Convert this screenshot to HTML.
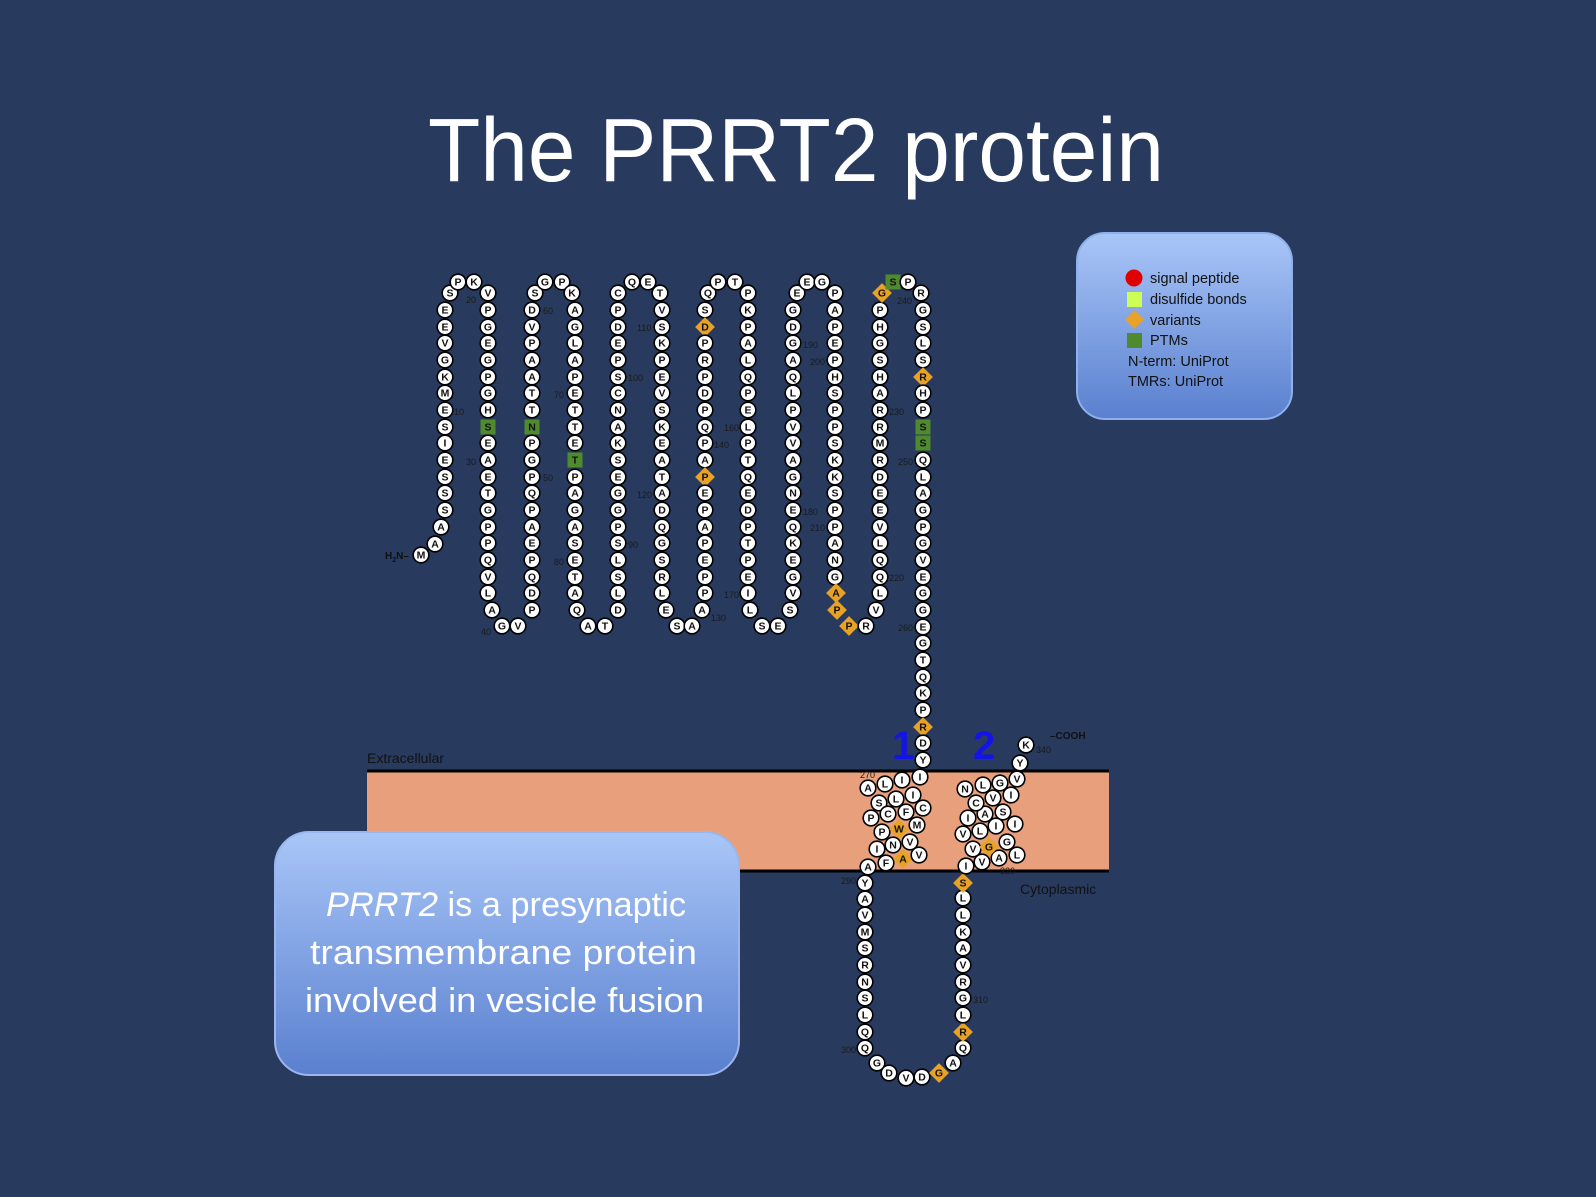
<!DOCTYPE html>
<html><head><meta charset="utf-8"><style>
html,body{margin:0;padding:0;background:#283a5e;}
svg{display:block}
.res circle{fill:#fff;stroke:#000;stroke-width:1.6}
.res text{font-family:"Liberation Sans",sans-serif;font-size:10.5px;font-weight:bold;fill:#111;text-anchor:middle}
.d{fill:#e8a226}
.g{fill:#4f8a2f}
.n{font-family:"Liberation Sans",sans-serif;font-size:9px;fill:#1a1a1a}
</style></head><body>
<svg width="1596" height="1197" viewBox="0 0 1596 1197" xmlns="http://www.w3.org/2000/svg">
<defs>
<linearGradient id="bg1" x1="0" y1="0" x2="0" y2="1"><stop offset="0" stop-color="#a9c6f8"/><stop offset="1" stop-color="#5a80cf"/></linearGradient>
</defs>
<rect width="1596" height="1197" fill="#283a5e"/>
<text x="428" y="181" font-family="Liberation Sans,sans-serif" font-size="90" fill="#fff" textLength="736" lengthAdjust="spacingAndGlyphs">The PRRT2 protein</text>

<!-- legend -->
<rect x="1077" y="233" width="215" height="186" rx="28" fill="url(#bg1)" stroke="#8fb0ea" stroke-width="2"/>
<circle cx="1134" cy="278" r="8.5" fill="#e00000"/>
<rect x="1127" y="292" width="15" height="15" fill="#ccff55"/>
<rect x="1128" y="313" width="13" height="13" fill="#e8a226" transform="rotate(45 1134.5 319.5)"/>
<rect x="1127" y="333" width="15" height="15" fill="#4f8a2f"/>
<g font-family="Liberation Sans,sans-serif" font-size="14.5" fill="#111">
<text x="1150" y="283">signal peptide</text>
<text x="1150" y="304">disulfide bonds</text>
<text x="1150" y="325">variants</text>
<text x="1150" y="345">PTMs</text>
<text x="1128" y="366">N-term: UniProt</text>
<text x="1128" y="386">TMRs: UniProt</text>
</g>

<!-- membrane -->
<rect x="367" y="771" width="742" height="100" fill="#e8a07c"/>
<line x1="367" y1="771" x2="1109" y2="771" stroke="#000" stroke-width="3"/>
<line x1="367" y1="871" x2="1109" y2="871" stroke="#000" stroke-width="3"/>
<text x="367" y="763" font-family="Liberation Sans,sans-serif" font-size="14" fill="#111">Extracellular</text>
<text x="1020" y="894" font-family="Liberation Sans,sans-serif" font-size="14" fill="#111">Cytoplasmic</text>
<text x="892" y="759" font-family="Liberation Sans,sans-serif" font-size="40" font-weight="bold" fill="#1414e6">1</text>
<text x="973" y="759" font-family="Liberation Sans,sans-serif" font-size="40" font-weight="bold" fill="#1414e6">2</text>
<text x="1050" y="739" font-family="Liberation Sans,sans-serif" font-size="10" font-weight="bold" fill="#111">–COOH</text>
<text x="385" y="559" font-family="Liberation Sans,sans-serif" font-size="10" font-weight="bold" fill="#111">H<tspan font-size="7" dy="3">2</tspan><tspan dy="-3">N–</tspan></text>

<!-- numbers -->
<g class="n">
<text x="466" y="303">20</text><text x="454" y="415">10</text><text x="466" y="465">30</text><text x="481" y="635">40</text>
<text x="543" y="314">60</text><text x="543" y="481">50</text><text x="554" y="398">70</text><text x="554" y="565">80</text>
<text x="628" y="381">100</text><text x="628" y="548">90</text><text x="637" y="331">110</text><text x="637" y="498">120</text>
<text x="711" y="621">130</text><text x="714" y="448">140</text><text x="724" y="431">160</text><text x="724" y="598">170</text>
<text x="803" y="348">190</text><text x="803" y="515">180</text><text x="810" y="365">200</text><text x="810" y="531">210</text>
<text x="889" y="415">230</text><text x="889" y="581">220</text><text x="897" y="304">240</text><text x="898" y="465">250</text>
<text x="898" y="631">260</text><text x="841" y="884">290</text><text x="841" y="1053">300</text><text x="973" y="1003">310</text>
<text x="1036" y="753">340</text><text x="860" y="778">270</text><text x="1000" y="874">320</text>
</g>

<g class="res">
<!-- Col1 -->
<g transform="translate(421,555)"><circle r="7.8"/><text dy="3.7">M</text></g>
<g transform="translate(435,544)"><circle r="7.8"/><text dy="3.7">A</text></g>
<g transform="translate(441,527)"><circle r="7.8"/><text dy="3.7">A</text></g>
<g transform="translate(445,510)"><circle r="7.8"/><text dy="3.7">S</text></g>
<g transform="translate(445,493)"><circle r="7.8"/><text dy="3.7">S</text></g>
<g transform="translate(445,477)"><circle r="7.8"/><text dy="3.7">S</text></g>
<g transform="translate(445,460)"><circle r="7.8"/><text dy="3.7">E</text></g>
<g transform="translate(445,443)"><circle r="7.8"/><text dy="3.7">I</text></g>
<g transform="translate(445,427)"><circle r="7.8"/><text dy="3.7">S</text></g>
<g transform="translate(445,410)"><circle r="7.8"/><text dy="3.7">E</text></g>
<g transform="translate(445,393)"><circle r="7.8"/><text dy="3.7">M</text></g>
<g transform="translate(445,377)"><circle r="7.8"/><text dy="3.7">K</text></g>
<g transform="translate(445,360)"><circle r="7.8"/><text dy="3.7">G</text></g>
<g transform="translate(445,343)"><circle r="7.8"/><text dy="3.7">V</text></g>
<g transform="translate(445,327)"><circle r="7.8"/><text dy="3.7">E</text></g>
<g transform="translate(445,310)"><circle r="7.8"/><text dy="3.7">E</text></g>
<g transform="translate(450,293)"><circle r="7.8"/><text dy="3.7">S</text></g>
<g transform="translate(458,282)"><circle r="7.8"/><text dy="3.7">P</text></g>
<g transform="translate(474,282)"><circle r="7.8"/><text dy="3.7">K</text></g>
<g transform="translate(488,293)"><circle r="7.8"/><text dy="3.7">V</text></g>
<!-- Col2 -->
<g transform="translate(488,310)"><circle r="7.8"/><text dy="3.7">P</text></g>
<g transform="translate(488,327)"><circle r="7.8"/><text dy="3.7">G</text></g>
<g transform="translate(488,343)"><circle r="7.8"/><text dy="3.7">E</text></g>
<g transform="translate(488,360)"><circle r="7.8"/><text dy="3.7">G</text></g>
<g transform="translate(488,377)"><circle r="7.8"/><text dy="3.7">P</text></g>
<g transform="translate(488,393)"><circle r="7.8"/><text dy="3.7">G</text></g>
<g transform="translate(488,410)"><circle r="7.8"/><text dy="3.7">H</text></g>
<g transform="translate(488,427)"><rect class="g" x="-7.5" y="-7.5" width="15" height="15"/><text dy="3.7">S</text></g>
<g transform="translate(488,443)"><circle r="7.8"/><text dy="3.7">E</text></g>
<g transform="translate(488,460)"><circle r="7.8"/><text dy="3.7">A</text></g>
<g transform="translate(488,477)"><circle r="7.8"/><text dy="3.7">E</text></g>
<g transform="translate(488,493)"><circle r="7.8"/><text dy="3.7">T</text></g>
<g transform="translate(488,510)"><circle r="7.8"/><text dy="3.7">G</text></g>
<g transform="translate(488,527)"><circle r="7.8"/><text dy="3.7">P</text></g>
<g transform="translate(488,543)"><circle r="7.8"/><text dy="3.7">P</text></g>
<g transform="translate(488,560)"><circle r="7.8"/><text dy="3.7">Q</text></g>
<g transform="translate(488,577)"><circle r="7.8"/><text dy="3.7">V</text></g>
<g transform="translate(488,593)"><circle r="7.8"/><text dy="3.7">L</text></g>
<g transform="translate(492,610)"><circle r="7.8"/><text dy="3.7">A</text></g>
<g transform="translate(502,626)"><circle r="7.8"/><text dy="3.7">G</text></g>
<g transform="translate(518,626)"><circle r="7.8"/><text dy="3.7">V</text></g>
<g transform="translate(532,610)"><circle r="7.8"/><text dy="3.7">P</text></g>
<!-- Col3 -->
<g transform="translate(532,310)"><circle r="7.8"/><text dy="3.7">D</text></g>
<g transform="translate(532,327)"><circle r="7.8"/><text dy="3.7">V</text></g>
<g transform="translate(532,343)"><circle r="7.8"/><text dy="3.7">P</text></g>
<g transform="translate(532,360)"><circle r="7.8"/><text dy="3.7">A</text></g>
<g transform="translate(532,377)"><circle r="7.8"/><text dy="3.7">A</text></g>
<g transform="translate(532,393)"><circle r="7.8"/><text dy="3.7">T</text></g>
<g transform="translate(532,410)"><circle r="7.8"/><text dy="3.7">T</text></g>
<g transform="translate(532,427)"><rect class="g" x="-7.5" y="-7.5" width="15" height="15"/><text dy="3.7">N</text></g>
<g transform="translate(532,443)"><circle r="7.8"/><text dy="3.7">P</text></g>
<g transform="translate(532,460)"><circle r="7.8"/><text dy="3.7">G</text></g>
<g transform="translate(532,477)"><circle r="7.8"/><text dy="3.7">P</text></g>
<g transform="translate(532,493)"><circle r="7.8"/><text dy="3.7">Q</text></g>
<g transform="translate(532,510)"><circle r="7.8"/><text dy="3.7">P</text></g>
<g transform="translate(532,527)"><circle r="7.8"/><text dy="3.7">A</text></g>
<g transform="translate(532,543)"><circle r="7.8"/><text dy="3.7">E</text></g>
<g transform="translate(532,560)"><circle r="7.8"/><text dy="3.7">P</text></g>
<g transform="translate(532,577)"><circle r="7.8"/><text dy="3.7">Q</text></g>
<g transform="translate(532,593)"><circle r="7.8"/><text dy="3.7">D</text></g>
<g transform="translate(535,293)"><circle r="7.8"/><text dy="3.7">S</text></g>
<g transform="translate(545,282)"><circle r="7.8"/><text dy="3.7">G</text></g>
<g transform="translate(562,282)"><circle r="7.8"/><text dy="3.7">P</text></g>
<g transform="translate(572,293)"><circle r="7.8"/><text dy="3.7">K</text></g>
<!-- Col4 -->
<g transform="translate(575,310)"><circle r="7.8"/><text dy="3.7">A</text></g>
<g transform="translate(575,327)"><circle r="7.8"/><text dy="3.7">G</text></g>
<g transform="translate(575,343)"><circle r="7.8"/><text dy="3.7">L</text></g>
<g transform="translate(575,360)"><circle r="7.8"/><text dy="3.7">A</text></g>
<g transform="translate(575,377)"><circle r="7.8"/><text dy="3.7">P</text></g>
<g transform="translate(575,393)"><circle r="7.8"/><text dy="3.7">E</text></g>
<g transform="translate(575,410)"><circle r="7.8"/><text dy="3.7">T</text></g>
<g transform="translate(575,427)"><circle r="7.8"/><text dy="3.7">T</text></g>
<g transform="translate(575,443)"><circle r="7.8"/><text dy="3.7">E</text></g>
<g transform="translate(575,460)"><rect class="g" x="-7.5" y="-7.5" width="15" height="15"/><text dy="3.7">T</text></g>
<g transform="translate(575,477)"><circle r="7.8"/><text dy="3.7">P</text></g>
<g transform="translate(575,493)"><circle r="7.8"/><text dy="3.7">A</text></g>
<g transform="translate(575,510)"><circle r="7.8"/><text dy="3.7">G</text></g>
<g transform="translate(575,527)"><circle r="7.8"/><text dy="3.7">A</text></g>
<g transform="translate(575,543)"><circle r="7.8"/><text dy="3.7">S</text></g>
<g transform="translate(575,560)"><circle r="7.8"/><text dy="3.7">E</text></g>
<g transform="translate(575,577)"><circle r="7.8"/><text dy="3.7">T</text></g>
<g transform="translate(575,593)"><circle r="7.8"/><text dy="3.7">A</text></g>
<g transform="translate(577,610)"><circle r="7.8"/><text dy="3.7">Q</text></g>
<g transform="translate(588,626)"><circle r="7.8"/><text dy="3.7">A</text></g>
<g transform="translate(605,626)"><circle r="7.8"/><text dy="3.7">T</text></g>
<g transform="translate(618,610)"><circle r="7.8"/><text dy="3.7">D</text></g>
<!-- Col5 -->
<g transform="translate(618,310)"><circle r="7.8"/><text dy="3.7">P</text></g>
<g transform="translate(618,327)"><circle r="7.8"/><text dy="3.7">D</text></g>
<g transform="translate(618,343)"><circle r="7.8"/><text dy="3.7">E</text></g>
<g transform="translate(618,360)"><circle r="7.8"/><text dy="3.7">P</text></g>
<g transform="translate(618,377)"><circle r="7.8"/><text dy="3.7">S</text></g>
<g transform="translate(618,393)"><circle r="7.8"/><text dy="3.7">C</text></g>
<g transform="translate(618,410)"><circle r="7.8"/><text dy="3.7">N</text></g>
<g transform="translate(618,427)"><circle r="7.8"/><text dy="3.7">A</text></g>
<g transform="translate(618,443)"><circle r="7.8"/><text dy="3.7">K</text></g>
<g transform="translate(618,460)"><circle r="7.8"/><text dy="3.7">S</text></g>
<g transform="translate(618,477)"><circle r="7.8"/><text dy="3.7">E</text></g>
<g transform="translate(618,493)"><circle r="7.8"/><text dy="3.7">G</text></g>
<g transform="translate(618,510)"><circle r="7.8"/><text dy="3.7">G</text></g>
<g transform="translate(618,527)"><circle r="7.8"/><text dy="3.7">P</text></g>
<g transform="translate(618,543)"><circle r="7.8"/><text dy="3.7">S</text></g>
<g transform="translate(618,560)"><circle r="7.8"/><text dy="3.7">L</text></g>
<g transform="translate(618,577)"><circle r="7.8"/><text dy="3.7">S</text></g>
<g transform="translate(618,593)"><circle r="7.8"/><text dy="3.7">L</text></g>
<g transform="translate(618,293)"><circle r="7.8"/><text dy="3.7">C</text></g>
<g transform="translate(632,282)"><circle r="7.8"/><text dy="3.7">Q</text></g>
<g transform="translate(648,282)"><circle r="7.8"/><text dy="3.7">E</text></g>
<g transform="translate(660,293)"><circle r="7.8"/><text dy="3.7">T</text></g>
<!-- Col6 -->
<g transform="translate(662,310)"><circle r="7.8"/><text dy="3.7">V</text></g>
<g transform="translate(662,327)"><circle r="7.8"/><text dy="3.7">S</text></g>
<g transform="translate(662,343)"><circle r="7.8"/><text dy="3.7">K</text></g>
<g transform="translate(662,360)"><circle r="7.8"/><text dy="3.7">P</text></g>
<g transform="translate(662,377)"><circle r="7.8"/><text dy="3.7">E</text></g>
<g transform="translate(662,393)"><circle r="7.8"/><text dy="3.7">V</text></g>
<g transform="translate(662,410)"><circle r="7.8"/><text dy="3.7">S</text></g>
<g transform="translate(662,427)"><circle r="7.8"/><text dy="3.7">K</text></g>
<g transform="translate(662,443)"><circle r="7.8"/><text dy="3.7">E</text></g>
<g transform="translate(662,460)"><circle r="7.8"/><text dy="3.7">A</text></g>
<g transform="translate(662,477)"><circle r="7.8"/><text dy="3.7">T</text></g>
<g transform="translate(662,493)"><circle r="7.8"/><text dy="3.7">A</text></g>
<g transform="translate(662,510)"><circle r="7.8"/><text dy="3.7">D</text></g>
<g transform="translate(662,527)"><circle r="7.8"/><text dy="3.7">Q</text></g>
<g transform="translate(662,543)"><circle r="7.8"/><text dy="3.7">G</text></g>
<g transform="translate(662,560)"><circle r="7.8"/><text dy="3.7">S</text></g>
<g transform="translate(662,577)"><circle r="7.8"/><text dy="3.7">R</text></g>
<g transform="translate(662,593)"><circle r="7.8"/><text dy="3.7">L</text></g>
<g transform="translate(666,610)"><circle r="7.8"/><text dy="3.7">E</text></g>
<g transform="translate(677,626)"><circle r="7.8"/><text dy="3.7">S</text></g>
<g transform="translate(692,626)"><circle r="7.8"/><text dy="3.7">A</text></g>
<g transform="translate(702,610)"><circle r="7.8"/><text dy="3.7">A</text></g>
<!-- Col7 -->
<g transform="translate(705,310)"><circle r="7.8"/><text dy="3.7">S</text></g>
<g transform="translate(705,327)"><rect class="d" x="-7" y="-7" width="14" height="14" transform="rotate(45)"/><text dy="3.7">D</text></g>
<g transform="translate(705,343)"><circle r="7.8"/><text dy="3.7">P</text></g>
<g transform="translate(705,360)"><circle r="7.8"/><text dy="3.7">R</text></g>
<g transform="translate(705,377)"><circle r="7.8"/><text dy="3.7">P</text></g>
<g transform="translate(705,393)"><circle r="7.8"/><text dy="3.7">D</text></g>
<g transform="translate(705,410)"><circle r="7.8"/><text dy="3.7">P</text></g>
<g transform="translate(705,427)"><circle r="7.8"/><text dy="3.7">Q</text></g>
<g transform="translate(705,443)"><circle r="7.8"/><text dy="3.7">P</text></g>
<g transform="translate(705,460)"><circle r="7.8"/><text dy="3.7">A</text></g>
<g transform="translate(705,477)"><rect class="d" x="-7" y="-7" width="14" height="14" transform="rotate(45)"/><text dy="3.7">P</text></g>
<g transform="translate(705,493)"><circle r="7.8"/><text dy="3.7">E</text></g>
<g transform="translate(705,510)"><circle r="7.8"/><text dy="3.7">P</text></g>
<g transform="translate(705,527)"><circle r="7.8"/><text dy="3.7">A</text></g>
<g transform="translate(705,543)"><circle r="7.8"/><text dy="3.7">P</text></g>
<g transform="translate(705,560)"><circle r="7.8"/><text dy="3.7">E</text></g>
<g transform="translate(705,577)"><circle r="7.8"/><text dy="3.7">P</text></g>
<g transform="translate(705,593)"><circle r="7.8"/><text dy="3.7">P</text></g>
<g transform="translate(708,293)"><circle r="7.8"/><text dy="3.7">Q</text></g>
<g transform="translate(718,282)"><circle r="7.8"/><text dy="3.7">P</text></g>
<g transform="translate(735,282)"><circle r="7.8"/><text dy="3.7">T</text></g>
<g transform="translate(748,293)"><circle r="7.8"/><text dy="3.7">P</text></g>
<!-- Col8 -->
<g transform="translate(748,310)"><circle r="7.8"/><text dy="3.7">K</text></g>
<g transform="translate(748,327)"><circle r="7.8"/><text dy="3.7">P</text></g>
<g transform="translate(748,343)"><circle r="7.8"/><text dy="3.7">A</text></g>
<g transform="translate(748,360)"><circle r="7.8"/><text dy="3.7">L</text></g>
<g transform="translate(748,377)"><circle r="7.8"/><text dy="3.7">Q</text></g>
<g transform="translate(748,393)"><circle r="7.8"/><text dy="3.7">P</text></g>
<g transform="translate(748,410)"><circle r="7.8"/><text dy="3.7">E</text></g>
<g transform="translate(748,427)"><circle r="7.8"/><text dy="3.7">L</text></g>
<g transform="translate(748,443)"><circle r="7.8"/><text dy="3.7">P</text></g>
<g transform="translate(748,460)"><circle r="7.8"/><text dy="3.7">T</text></g>
<g transform="translate(748,477)"><circle r="7.8"/><text dy="3.7">Q</text></g>
<g transform="translate(748,493)"><circle r="7.8"/><text dy="3.7">E</text></g>
<g transform="translate(748,510)"><circle r="7.8"/><text dy="3.7">D</text></g>
<g transform="translate(748,527)"><circle r="7.8"/><text dy="3.7">P</text></g>
<g transform="translate(748,543)"><circle r="7.8"/><text dy="3.7">T</text></g>
<g transform="translate(748,560)"><circle r="7.8"/><text dy="3.7">P</text></g>
<g transform="translate(748,577)"><circle r="7.8"/><text dy="3.7">E</text></g>
<g transform="translate(748,593)"><circle r="7.8"/><text dy="3.7">I</text></g>
<g transform="translate(750,610)"><circle r="7.8"/><text dy="3.7">L</text></g>
<g transform="translate(762,626)"><circle r="7.8"/><text dy="3.7">S</text></g>
<g transform="translate(778,626)"><circle r="7.8"/><text dy="3.7">E</text></g>
<g transform="translate(790,610)"><circle r="7.8"/><text dy="3.7">S</text></g>
<!-- Col9 -->
<g transform="translate(793,310)"><circle r="7.8"/><text dy="3.7">G</text></g>
<g transform="translate(793,327)"><circle r="7.8"/><text dy="3.7">D</text></g>
<g transform="translate(793,343)"><circle r="7.8"/><text dy="3.7">G</text></g>
<g transform="translate(793,360)"><circle r="7.8"/><text dy="3.7">A</text></g>
<g transform="translate(793,377)"><circle r="7.8"/><text dy="3.7">Q</text></g>
<g transform="translate(793,393)"><circle r="7.8"/><text dy="3.7">L</text></g>
<g transform="translate(793,410)"><circle r="7.8"/><text dy="3.7">P</text></g>
<g transform="translate(793,427)"><circle r="7.8"/><text dy="3.7">V</text></g>
<g transform="translate(793,443)"><circle r="7.8"/><text dy="3.7">V</text></g>
<g transform="translate(793,460)"><circle r="7.8"/><text dy="3.7">A</text></g>
<g transform="translate(793,477)"><circle r="7.8"/><text dy="3.7">G</text></g>
<g transform="translate(793,493)"><circle r="7.8"/><text dy="3.7">N</text></g>
<g transform="translate(793,510)"><circle r="7.8"/><text dy="3.7">E</text></g>
<g transform="translate(793,527)"><circle r="7.8"/><text dy="3.7">Q</text></g>
<g transform="translate(793,543)"><circle r="7.8"/><text dy="3.7">K</text></g>
<g transform="translate(793,560)"><circle r="7.8"/><text dy="3.7">E</text></g>
<g transform="translate(793,577)"><circle r="7.8"/><text dy="3.7">G</text></g>
<g transform="translate(793,593)"><circle r="7.8"/><text dy="3.7">V</text></g>
<g transform="translate(797,293)"><circle r="7.8"/><text dy="3.7">E</text></g>
<g transform="translate(807,282)"><circle r="7.8"/><text dy="3.7">E</text></g>
<g transform="translate(822,282)"><circle r="7.8"/><text dy="3.7">G</text></g>
<g transform="translate(835,293)"><circle r="7.8"/><text dy="3.7">P</text></g>
<!-- Col10 -->
<g transform="translate(835,310)"><circle r="7.8"/><text dy="3.7">A</text></g>
<g transform="translate(835,327)"><circle r="7.8"/><text dy="3.7">P</text></g>
<g transform="translate(835,343)"><circle r="7.8"/><text dy="3.7">E</text></g>
<g transform="translate(835,360)"><circle r="7.8"/><text dy="3.7">P</text></g>
<g transform="translate(835,377)"><circle r="7.8"/><text dy="3.7">H</text></g>
<g transform="translate(835,393)"><circle r="7.8"/><text dy="3.7">S</text></g>
<g transform="translate(835,410)"><circle r="7.8"/><text dy="3.7">P</text></g>
<g transform="translate(835,427)"><circle r="7.8"/><text dy="3.7">P</text></g>
<g transform="translate(835,443)"><circle r="7.8"/><text dy="3.7">S</text></g>
<g transform="translate(835,460)"><circle r="7.8"/><text dy="3.7">K</text></g>
<g transform="translate(835,477)"><circle r="7.8"/><text dy="3.7">K</text></g>
<g transform="translate(835,493)"><circle r="7.8"/><text dy="3.7">S</text></g>
<g transform="translate(835,510)"><circle r="7.8"/><text dy="3.7">P</text></g>
<g transform="translate(835,527)"><circle r="7.8"/><text dy="3.7">P</text></g>
<g transform="translate(835,543)"><circle r="7.8"/><text dy="3.7">A</text></g>
<g transform="translate(835,560)"><circle r="7.8"/><text dy="3.7">N</text></g>
<g transform="translate(835,577)"><circle r="7.8"/><text dy="3.7">G</text></g>
<g transform="translate(836,593)"><rect class="d" x="-7" y="-7" width="14" height="14" transform="rotate(45)"/><text dy="3.7">A</text></g>
<g transform="translate(837,610)"><rect class="d" x="-7" y="-7" width="14" height="14" transform="rotate(45)"/><text dy="3.7">P</text></g>
<g transform="translate(849,626)"><rect class="d" x="-7" y="-7" width="14" height="14" transform="rotate(45)"/><text dy="3.7">P</text></g>
<g transform="translate(866,626)"><circle r="7.8"/><text dy="3.7">R</text></g>
<g transform="translate(876,610)"><circle r="7.8"/><text dy="3.7">V</text></g>
<!-- Col11 -->
<g transform="translate(880,310)"><circle r="7.8"/><text dy="3.7">P</text></g>
<g transform="translate(880,327)"><circle r="7.8"/><text dy="3.7">H</text></g>
<g transform="translate(880,343)"><circle r="7.8"/><text dy="3.7">G</text></g>
<g transform="translate(880,360)"><circle r="7.8"/><text dy="3.7">S</text></g>
<g transform="translate(880,377)"><circle r="7.8"/><text dy="3.7">H</text></g>
<g transform="translate(880,393)"><circle r="7.8"/><text dy="3.7">A</text></g>
<g transform="translate(880,410)"><circle r="7.8"/><text dy="3.7">R</text></g>
<g transform="translate(880,427)"><circle r="7.8"/><text dy="3.7">R</text></g>
<g transform="translate(880,443)"><circle r="7.8"/><text dy="3.7">M</text></g>
<g transform="translate(880,460)"><circle r="7.8"/><text dy="3.7">R</text></g>
<g transform="translate(880,477)"><circle r="7.8"/><text dy="3.7">D</text></g>
<g transform="translate(880,493)"><circle r="7.8"/><text dy="3.7">E</text></g>
<g transform="translate(880,510)"><circle r="7.8"/><text dy="3.7">E</text></g>
<g transform="translate(880,527)"><circle r="7.8"/><text dy="3.7">V</text></g>
<g transform="translate(880,543)"><circle r="7.8"/><text dy="3.7">L</text></g>
<g transform="translate(880,560)"><circle r="7.8"/><text dy="3.7">Q</text></g>
<g transform="translate(880,577)"><circle r="7.8"/><text dy="3.7">Q</text></g>
<g transform="translate(880,593)"><circle r="7.8"/><text dy="3.7">L</text></g>
<g transform="translate(882,293)"><rect class="d" x="-7" y="-7" width="14" height="14" transform="rotate(45)"/><text dy="3.7">G</text></g>
<g transform="translate(893,282)"><rect class="g" x="-7.5" y="-7.5" width="15" height="15"/><text dy="3.7">S</text></g>
<g transform="translate(908,282)"><circle r="7.8"/><text dy="3.7">P</text></g>
<g transform="translate(921,293)"><circle r="7.8"/><text dy="3.7">R</text></g>
<!-- Col12 -->
<g transform="translate(923,310)"><circle r="7.8"/><text dy="3.7">G</text></g>
<g transform="translate(923,327)"><circle r="7.8"/><text dy="3.7">S</text></g>
<g transform="translate(923,343)"><circle r="7.8"/><text dy="3.7">L</text></g>
<g transform="translate(923,360)"><circle r="7.8"/><text dy="3.7">S</text></g>
<g transform="translate(923,377)"><rect class="d" x="-7" y="-7" width="14" height="14" transform="rotate(45)"/><text dy="3.7">R</text></g>
<g transform="translate(923,393)"><circle r="7.8"/><text dy="3.7">H</text></g>
<g transform="translate(923,410)"><circle r="7.8"/><text dy="3.7">P</text></g>
<g transform="translate(923,427)"><rect class="g" x="-7.5" y="-7.5" width="15" height="15"/><text dy="3.7">S</text></g>
<g transform="translate(923,443)"><rect class="g" x="-7.5" y="-7.5" width="15" height="15"/><text dy="3.7">S</text></g>
<g transform="translate(923,460)"><circle r="7.8"/><text dy="3.7">Q</text></g>
<g transform="translate(923,477)"><circle r="7.8"/><text dy="3.7">L</text></g>
<g transform="translate(923,493)"><circle r="7.8"/><text dy="3.7">A</text></g>
<g transform="translate(923,510)"><circle r="7.8"/><text dy="3.7">G</text></g>
<g transform="translate(923,527)"><circle r="7.8"/><text dy="3.7">P</text></g>
<g transform="translate(923,543)"><circle r="7.8"/><text dy="3.7">G</text></g>
<g transform="translate(923,560)"><circle r="7.8"/><text dy="3.7">V</text></g>
<g transform="translate(923,577)"><circle r="7.8"/><text dy="3.7">E</text></g>
<g transform="translate(923,593)"><circle r="7.8"/><text dy="3.7">G</text></g>
<g transform="translate(923,610)"><circle r="7.8"/><text dy="3.7">G</text></g>
<g transform="translate(923,627)"><circle r="7.8"/><text dy="3.7">E</text></g>
<g transform="translate(923,643)"><circle r="7.8"/><text dy="3.7">G</text></g>
<g transform="translate(923,660)"><circle r="7.8"/><text dy="3.7">T</text></g>
<g transform="translate(923,677)"><circle r="7.8"/><text dy="3.7">Q</text></g>
<g transform="translate(923,693)"><circle r="7.8"/><text dy="3.7">K</text></g>
<g transform="translate(923,710)"><circle r="7.8"/><text dy="3.7">P</text></g>
<g transform="translate(923,727)"><rect class="d" x="-7" y="-7" width="14" height="14" transform="rotate(45)"/><text dy="3.7">R</text></g>
<g transform="translate(923,743)"><circle r="7.8"/><text dy="3.7">D</text></g>
<g transform="translate(923,760)"><circle r="7.8"/><text dy="3.7">Y</text></g>
<g transform="translate(920,777)"><circle r="7.8"/><text dy="3.7">I</text></g>
<!-- TM1 -->
<g transform="translate(868,788)"><circle r="7.8"/><text dy="3.7">A</text></g>
<g transform="translate(885,784)"><circle r="7.8"/><text dy="3.7">L</text></g>
<g transform="translate(902,780)"><circle r="7.8"/><text dy="3.7">I</text></g>
<g transform="translate(879,803)"><circle r="7.8"/><text dy="3.7">S</text></g>
<g transform="translate(896,799)"><circle r="7.8"/><text dy="3.7">L</text></g>
<g transform="translate(913,795)"><circle r="7.8"/><text dy="3.7">I</text></g>
<g transform="translate(871,818)"><circle r="7.8"/><text dy="3.7">P</text></g>
<g transform="translate(888,814)"><circle r="7.8"/><text dy="3.7">C</text></g>
<g transform="translate(906,812)"><circle r="7.8"/><text dy="3.7">F</text></g>
<g transform="translate(923,808)"><circle r="7.8"/><text dy="3.7">C</text></g>
<g transform="translate(882,832)"><circle r="7.8"/><text dy="3.7">P</text></g>
<g transform="translate(899,829)"><rect class="d" x="-7" y="-7" width="14" height="14" transform="rotate(45)"/><text dy="3.7">W</text></g>
<g transform="translate(917,825)"><circle r="7.8"/><text dy="3.7">M</text></g>
<g transform="translate(877,849)"><circle r="7.8"/><text dy="3.7">I</text></g>
<g transform="translate(893,845)"><circle r="7.8"/><text dy="3.7">N</text></g>
<g transform="translate(910,842)"><circle r="7.8"/><text dy="3.7">V</text></g>
<g transform="translate(868,867)"><circle r="7.8"/><text dy="3.7">A</text></g>
<g transform="translate(886,863)"><circle r="7.8"/><text dy="3.7">F</text></g>
<g transform="translate(903,859)"><rect class="d" x="-7" y="-7" width="14" height="14" transform="rotate(45)"/><text dy="3.7">A</text></g>
<g transform="translate(919,855)"><circle r="7.8"/><text dy="3.7">V</text></g>
<!-- cytoplasmic loop -->
<g transform="translate(865,883)"><circle r="7.8"/><text dy="3.7">Y</text></g>
<g transform="translate(865,899)"><circle r="7.8"/><text dy="3.7">A</text></g>
<g transform="translate(865,915)"><circle r="7.8"/><text dy="3.7">V</text></g>
<g transform="translate(865,932)"><circle r="7.8"/><text dy="3.7">M</text></g>
<g transform="translate(865,948)"><circle r="7.8"/><text dy="3.7">S</text></g>
<g transform="translate(865,965)"><circle r="7.8"/><text dy="3.7">R</text></g>
<g transform="translate(865,982)"><circle r="7.8"/><text dy="3.7">N</text></g>
<g transform="translate(865,998)"><circle r="7.8"/><text dy="3.7">S</text></g>
<g transform="translate(865,1015)"><circle r="7.8"/><text dy="3.7">L</text></g>
<g transform="translate(865,1032)"><circle r="7.8"/><text dy="3.7">Q</text></g>
<g transform="translate(865,1048)"><circle r="7.8"/><text dy="3.7">Q</text></g>
<g transform="translate(877,1063)"><circle r="7.8"/><text dy="3.7">G</text></g>
<g transform="translate(889,1073)"><circle r="7.8"/><text dy="3.7">D</text></g>
<g transform="translate(906,1078)"><circle r="7.8"/><text dy="3.7">V</text></g>
<g transform="translate(922,1077)"><circle r="7.8"/><text dy="3.7">D</text></g>
<g transform="translate(939,1073)"><rect class="d" x="-7" y="-7" width="14" height="14" transform="rotate(45)"/><text dy="3.7">G</text></g>
<g transform="translate(953,1063)"><circle r="7.8"/><text dy="3.7">A</text></g>
<g transform="translate(963,1048)"><circle r="7.8"/><text dy="3.7">Q</text></g>
<g transform="translate(963,1032)"><rect class="d" x="-7" y="-7" width="14" height="14" transform="rotate(45)"/><text dy="3.7">R</text></g>
<g transform="translate(963,1015)"><circle r="7.8"/><text dy="3.7">L</text></g>
<g transform="translate(963,998)"><circle r="7.8"/><text dy="3.7">G</text></g>
<g transform="translate(963,982)"><circle r="7.8"/><text dy="3.7">R</text></g>
<g transform="translate(963,965)"><circle r="7.8"/><text dy="3.7">V</text></g>
<g transform="translate(963,948)"><circle r="7.8"/><text dy="3.7">A</text></g>
<g transform="translate(963,932)"><circle r="7.8"/><text dy="3.7">K</text></g>
<g transform="translate(963,915)"><circle r="7.8"/><text dy="3.7">L</text></g>
<g transform="translate(963,898)"><circle r="7.8"/><text dy="3.7">L</text></g>
<g transform="translate(963,883)"><rect class="d" x="-7" y="-7" width="14" height="14" transform="rotate(45)"/><text dy="3.7">S</text></g>
<!-- TM2 -->
<g transform="translate(966,866)"><circle r="7.8"/><text dy="3.7">I</text></g>
<g transform="translate(982,862)"><circle r="7.8"/><text dy="3.7">V</text></g>
<g transform="translate(999,858)"><circle r="7.8"/><text dy="3.7">A</text></g>
<g transform="translate(1017,855)"><circle r="7.8"/><text dy="3.7">L</text></g>
<g transform="translate(973,849)"><circle r="7.8"/><text dy="3.7">V</text></g>
<g transform="translate(989,847)"><rect class="d" x="-7" y="-7" width="14" height="14" transform="rotate(45)"/><text dy="3.7">G</text></g>
<g transform="translate(1007,842)"><circle r="7.8"/><text dy="3.7">G</text></g>
<g transform="translate(963,834)"><circle r="7.8"/><text dy="3.7">V</text></g>
<g transform="translate(980,831)"><circle r="7.8"/><text dy="3.7">L</text></g>
<g transform="translate(996,826)"><circle r="7.8"/><text dy="3.7">I</text></g>
<g transform="translate(1015,824)"><circle r="7.8"/><text dy="3.7">I</text></g>
<g transform="translate(968,818)"><circle r="7.8"/><text dy="3.7">I</text></g>
<g transform="translate(985,814)"><circle r="7.8"/><text dy="3.7">A</text></g>
<g transform="translate(1003,812)"><circle r="7.8"/><text dy="3.7">S</text></g>
<g transform="translate(976,803)"><circle r="7.8"/><text dy="3.7">C</text></g>
<g transform="translate(993,798)"><circle r="7.8"/><text dy="3.7">V</text></g>
<g transform="translate(1011,795)"><circle r="7.8"/><text dy="3.7">I</text></g>
<g transform="translate(965,789)"><circle r="7.8"/><text dy="3.7">N</text></g>
<g transform="translate(983,785)"><circle r="7.8"/><text dy="3.7">L</text></g>
<g transform="translate(1000,783)"><circle r="7.8"/><text dy="3.7">G</text></g>
<g transform="translate(1017,779)"><circle r="7.8"/><text dy="3.7">V</text></g>
<g transform="translate(1020,763)"><circle r="7.8"/><text dy="3.7">Y</text></g>
<g transform="translate(1026,745)"><circle r="7.8"/><text dy="3.7">K</text></g>
</g>

<!-- info box -->
<rect x="275" y="832" width="464" height="243" rx="34" fill="url(#bg1)" stroke="#9ab6ec" stroke-width="2"/>
<g font-family="Liberation Sans,sans-serif" font-size="34" fill="#fff">
<text x="326" y="916" textLength="360" lengthAdjust="spacingAndGlyphs"><tspan font-style="italic">PRRT2</tspan> is a presynaptic</text>
<text x="310" y="964" textLength="387" lengthAdjust="spacingAndGlyphs">transmembrane protein</text>
<text x="305" y="1012" textLength="399" lengthAdjust="spacingAndGlyphs">involved in vesicle fusion</text>
</g>
</svg>
</body></html>
